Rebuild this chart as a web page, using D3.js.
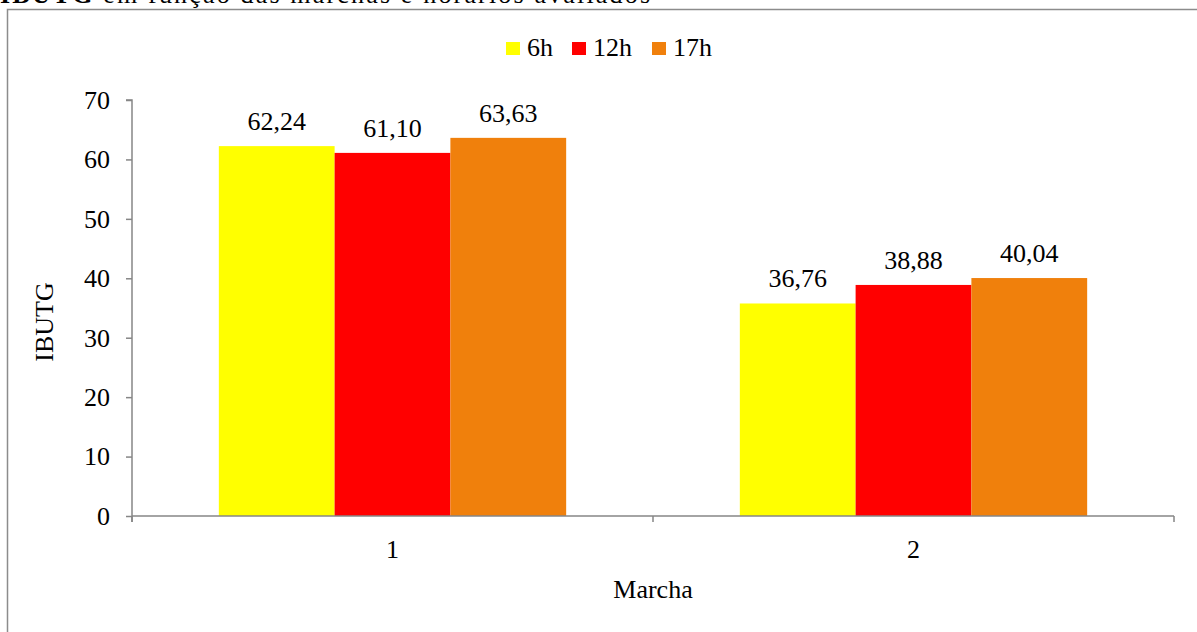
<!DOCTYPE html>
<html><head><meta charset="utf-8">
<script src="https://cdn.jsdelivr.net/npm/d3@7"></script>
<style>body{margin:0;background:#fff}svg{display:block}text{font-family:"Liberation Serif","Times New Roman",serif !important;fill:#000}</style>
</head><body><svg id="c" width="1197" height="632"></svg>
<script>
const categories = ["1", "2"];
const seriesNames = ["6h", "12h", "17h"];
const colors = ["#FFFF00", "#FF0000", "#F0800C"];
const values6h = [62.24, 35.76];
const values12h = [61.10, 38.88];
const values17h = [63.63, 40.04];
const labels6h = ["62,24", "36,76"];
const labels12h = ["61,10", "38,88"];
const labels17h = ["63,63", "40,04"];
const yTicks = [0, 10, 20, 30, 40, 50, 60, 70];

const series = [values6h, values12h, values17h];
const labels = [labels6h, labels12h, labels17h];
const FS = "26px";
const FF = '"Liberation Serif","Times New Roman",serif';

const svg = d3.select("#c").attr("font-family", FF);

// partially cut title
svg.append("text").attr("x", 0).attr("y", 3).style("font-size", FS)
  .attr("textLength", 650).attr("lengthAdjust", "spacing")
  .html('<tspan font-weight="bold">IBUTG</tspan> em função das marchas e horários avaliados');

// frame
svg.append("rect").attr("x", 7.5).attr("y", 9.5).attr("width", 1200).attr("height", 700)
  .attr("fill", "none").attr("stroke", "#8c8c8c").attr("stroke-width", 1.5);

const m = {l: 132, r: 1174, t: 100, b: 516};
const x0 = d3.scaleBand().domain(categories).range([m.l, m.r]).paddingInner(0).paddingOuter(0);
const x1 = d3.scaleBand().domain(d3.range(3)).range([0, x0.bandwidth()]).paddingInner(0).paddingOuter(0.75);
const y = d3.scaleLinear().domain([0, 70]).range([m.b, m.t]);

const g = svg.append("g");
categories.forEach((c, ci) => {
  series.forEach((s, si) => {
    const bx = x0(c) + x1(si);
    g.append("rect").attr("x", bx).attr("y", y(s[ci])).attr("width", x1.bandwidth())
      .attr("height", y(0) - y(s[ci])).attr("fill", colors[si]);
    g.append("text").attr("x", bx + x1.bandwidth() / 2).attr("y", y(s[ci]) - 16)
      .attr("text-anchor", "middle").style("font-size", FS).style("font-family", FF).text(labels[si][ci]);
  });
});

// y axis
const yAxis = d3.axisLeft(y).tickValues(yTicks).tickSize(6).tickPadding(16).tickFormat(d3.format("d"));
const ya = svg.append("g").attr("transform", `translate(${m.l},0)`).call(yAxis).attr("font-family", FF);
ya.selectAll("path,line").attr("stroke", "#868686").attr("stroke-width", 1.5);
ya.select(".domain").attr("d", `M-6,${m.t}H0V${m.b + 6}`);
ya.selectAll("text").style("font-size", FS).style("font-family", FF).attr("fill", "#000");

// x axis
const xa = svg.append("g").attr("transform", `translate(0,${m.b})`);
xa.append("line").attr("x1", m.l).attr("x2", m.r).attr("y1", 0).attr("y2", 0).attr("stroke", "#868686").attr("stroke-width", 1.5);
const xt = [m.l, ...categories.map(c => x0(c) + x0.bandwidth())];
xt.forEach(v => xa.append("line").attr("x1", v).attr("x2", v).attr("y1", 0).attr("y2", 6).attr("stroke", "#868686").attr("stroke-width", 1.5));
categories.forEach(c => xa.append("text").attr("x", x0(c) + x0.bandwidth() / 2).attr("y", 42)
  .attr("text-anchor", "middle").style("font-size", FS).text(c));

// axis titles
svg.append("text").attr("x", (m.l + m.r) / 2).attr("y", 598).attr("text-anchor", "middle").style("font-size", FS).text("Marcha");
svg.append("text").attr("transform", `translate(53,322) rotate(-90)`).attr("text-anchor", "middle").style("font-size", FS).text("IBUTG");

// legend
const legX = [506, 572, 652];
seriesNames.forEach((n, i) => {
  svg.append("rect").attr("x", legX[i]).attr("y", 42).attr("width", 14).attr("height", 13).attr("fill", colors[i]);
  svg.append("text").attr("x", legX[i] + 21).attr("y", 56).style("font-size", FS).text(n);
});
</script></body></html>
